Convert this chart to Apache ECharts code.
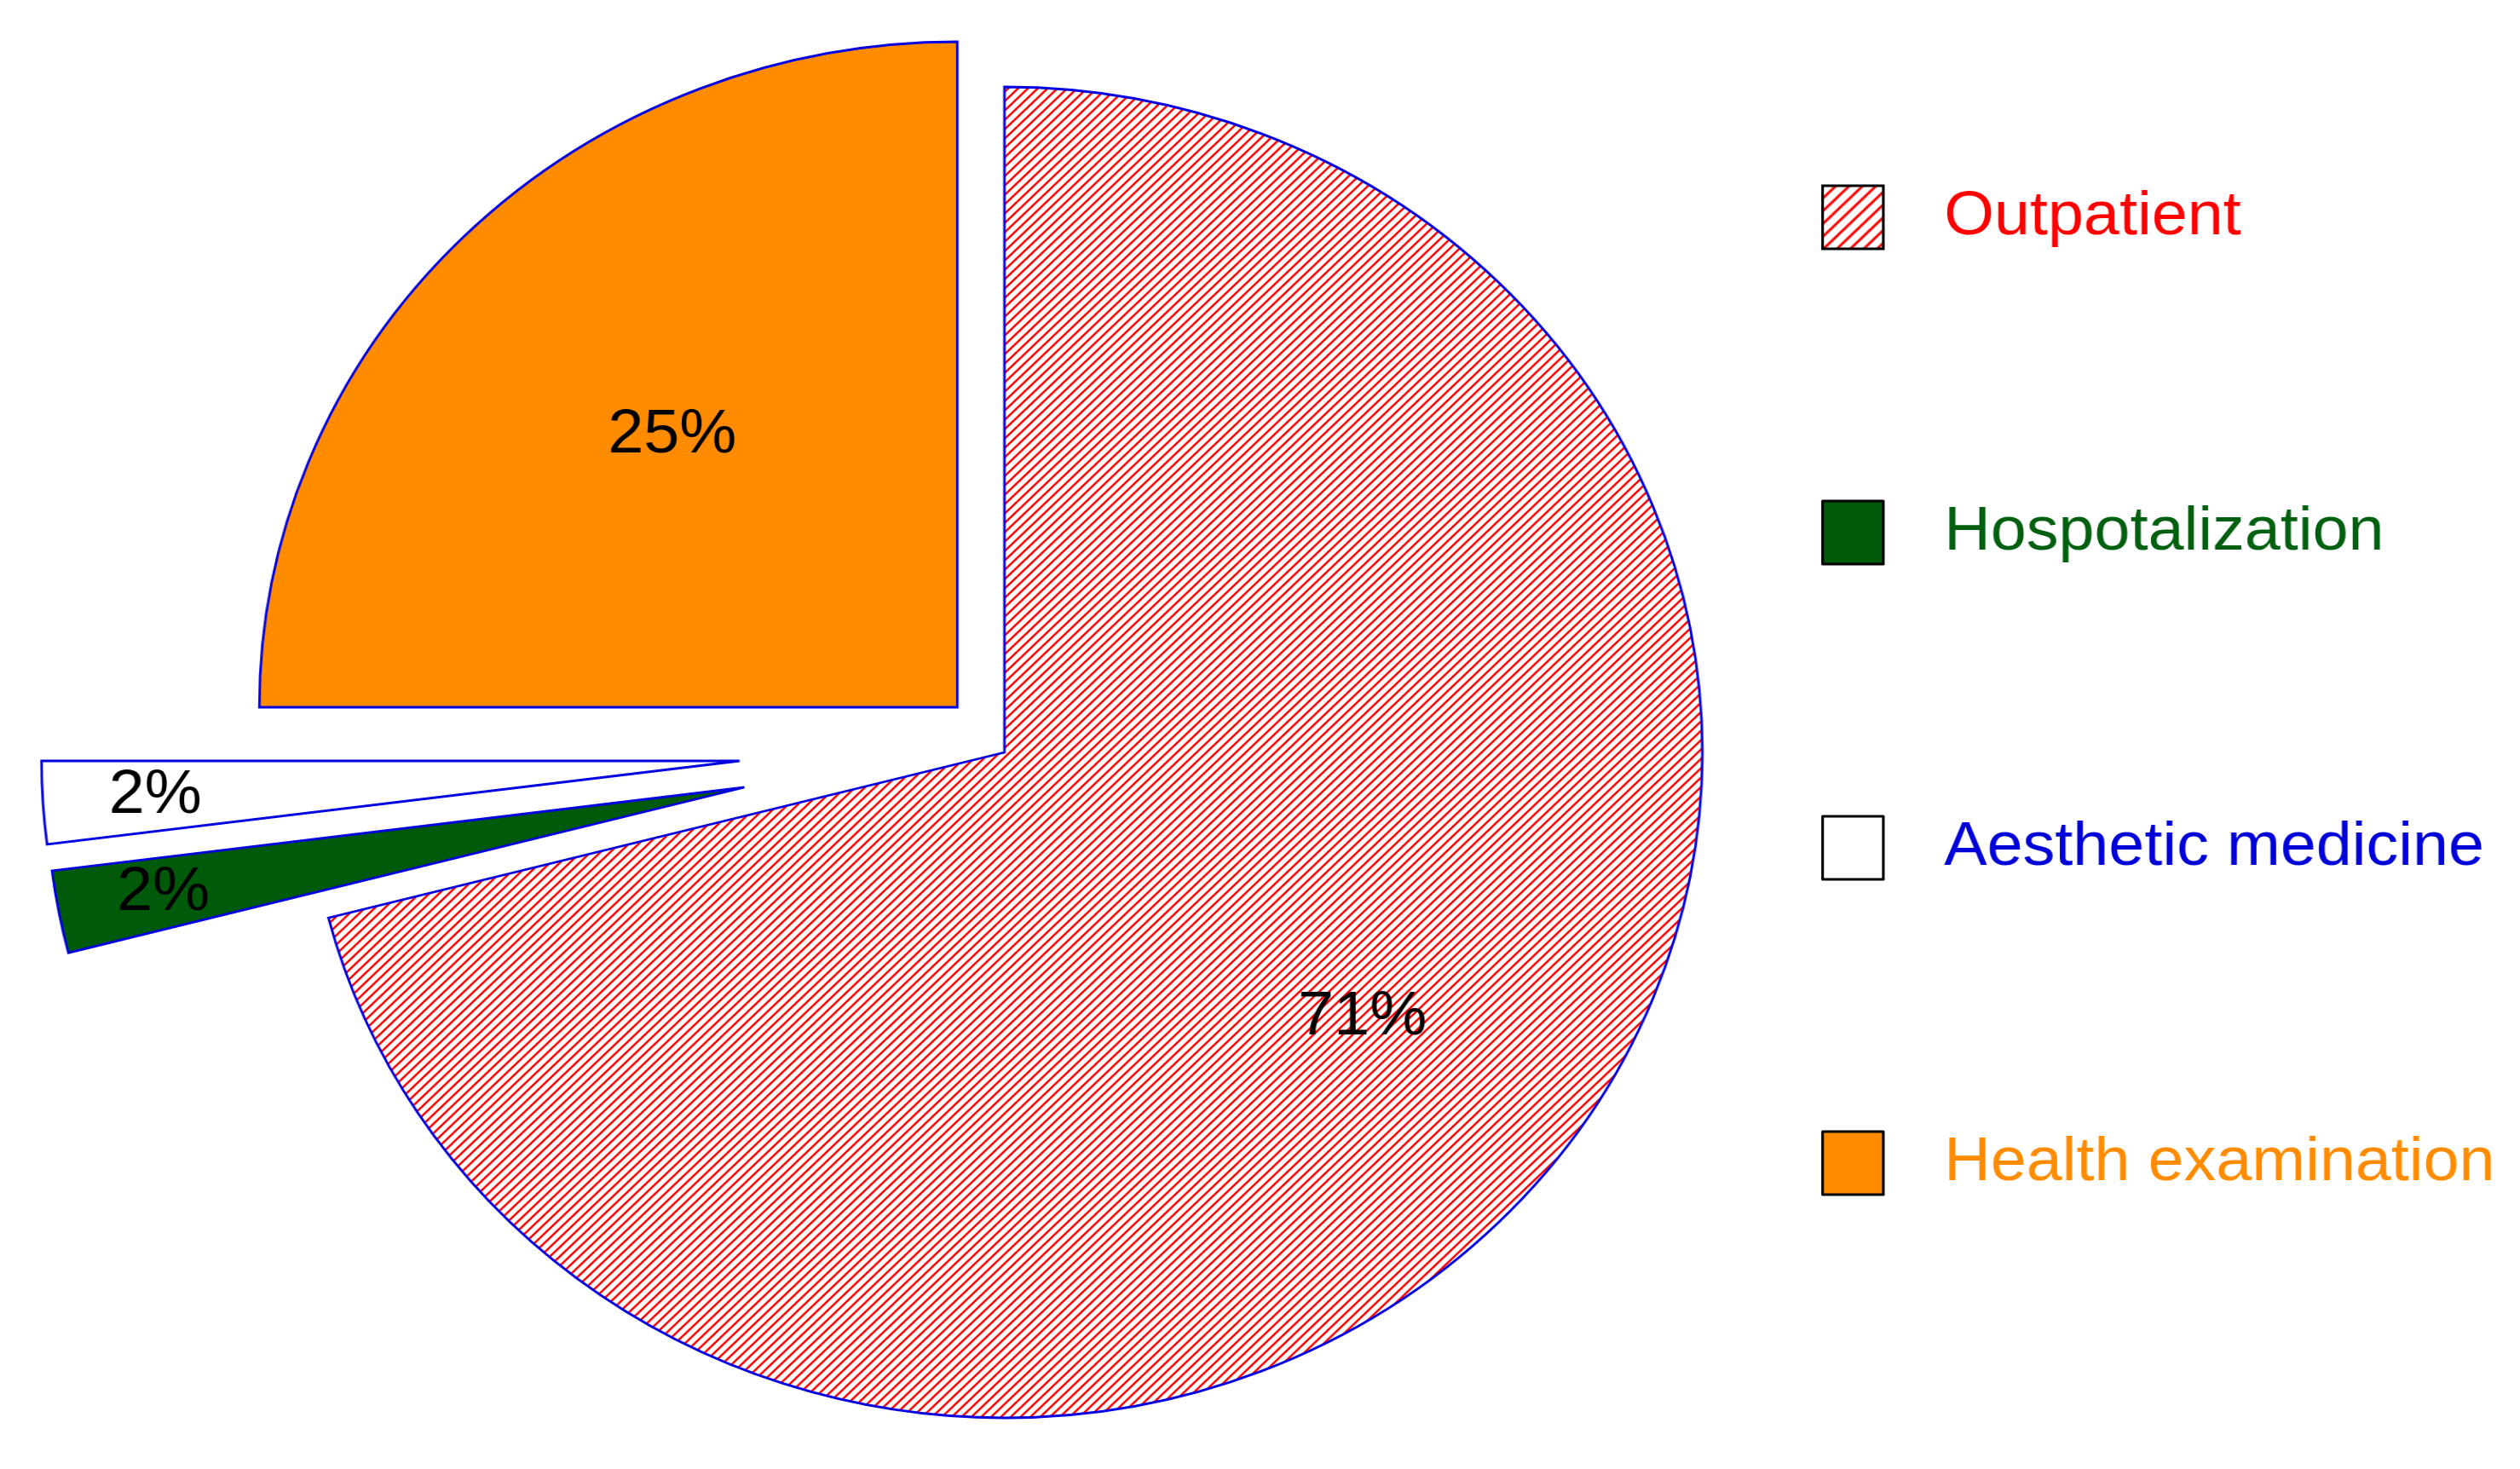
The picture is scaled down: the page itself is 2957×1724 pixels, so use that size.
<!DOCTYPE html>
<html><head><meta charset="utf-8">
<script src="https://cdn.jsdelivr.net/npm/echarts@6/dist/echarts.min.js"></script>
<style>
html,body{margin:0;padding:0;background:#fff;overflow:hidden;width:2957px;height:1724px}
#chart{width:2820px;height:1724px;transform:scaleX(1.0486);transform-origin:0 0}
</style>
</head><body><div id="chart"></div>
<script>
// ---- data ----
const categories = ['Outpatient', 'Hospotalization', 'Aesthetic medicine', 'Health examination'];
const values = [71, 2, 2, 25];
const labelTexts = ['71%', '2%', '2%', '25%'];

// ---- styles / layout ----
const FONT = "'Liberation Sans', Arial, sans-serif";
const R = 781;
const centerMain = [1124, 883];
const explode = [[0, 0], [-291, 41], [-296.5, 10], [-52.8, -53]];
const labelRadius = [1008, 1318, 1304, 896];
const textColors = ['#FF0000', '#006010', '#0000D8', '#FF8C00'];
const BORDER = '#0000E0';

function hatch(size, lw) {
  const c = document.createElement('canvas');
  c.width = size; c.height = size;
  const g = c.getContext('2d');
  g.fillStyle = '#fff'; g.fillRect(0, 0, size, size);
  g.strokeStyle = '#FF0000'; g.lineWidth = lw; g.lineCap = 'butt';
  g.beginPath();
  g.moveTo(-2, size + 2); g.lineTo(size + 2, -2);
  g.moveTo(-2, 2); g.lineTo(2, -2);
  g.moveTo(size - 2, size + 2); g.lineTo(size + 2, size - 2);
  g.stroke();
  return c;
}
const piePattern = { image: hatch(11, 2.4), repeat: 'repeat' };
const legendPattern = { image: hatch(15, 3), repeat: 'repeat' };
const fills = [piePattern, '#005A0A', '#FFFFFF', '#FF8C00'];
const legendFills = [legendPattern, '#005A0A', '#FFFFFF', '#FF8C00'];

const hidden = { color: 'rgba(0,0,0,0)', borderWidth: 0 };

const series = [];
categories.forEach((name, k) => {
  const c = [centerMain[0] + explode[k][0], centerMain[1] + explode[k][1]];
  series.push({
    type: 'pie', center: c, radius: [0, R], startAngle: 90, clockwise: true,
    silent: true, animation: false, avoidLabelOverlap: false,
    label: { show: false }, labelLine: { show: false },
    emphasis: { disabled: true },
    data: categories.map((n, i) => ({
      name: n, value: values[i],
      itemStyle: i === k ? { color: fills[i], borderColor: BORDER, borderWidth: 2.8, borderJoin: 'miter', opacity: 1 } : hidden
    }))
  });
  series.push({
    type: 'pie', center: c, radius: [0, labelRadius[k]], startAngle: 90, clockwise: true,
    silent: true, animation: false, avoidLabelOverlap: false,
    labelLine: { show: false },
    emphasis: { disabled: true },
    data: categories.map((n, i) => ({
      name: n, value: values[i],
      itemStyle: hidden,
      label: i === k ? {
        show: true, position: 'inside', formatter: labelTexts[i],
        color: '#000', fontFamily: FONT, fontSize: 72, rotate: 0, opacity: 1
      } : { show: false }
    }))
  });
});

const chart = echarts.init(document.getElementById('chart'), null, { width: 2820, height: 1724, renderer: 'canvas' });
const legendText = { fontFamily: FONT, fontSize: 72, lineHeight: 74, padding: [14, 0, 0, 63] };
chart.setOption({
  backgroundColor: '#fff',
  animation: false,
  legend: {
    orient: 'vertical', left: 2038, top: 211, padding: 0,
    icon: 'rect', itemWidth: 68, itemHeight: 74, itemGap: 282,
    selectedMode: false,
    textStyle: legendText,
    data: categories.map((n, i) => ({
      name: n,
      itemStyle: { color: legendFills[i], borderColor: '#000', borderWidth: 3, opacity: 1 },
      textStyle: Object.assign({ color: textColors[i] }, legendText)
    }))
  },
  series: series
});
</script></body></html>
